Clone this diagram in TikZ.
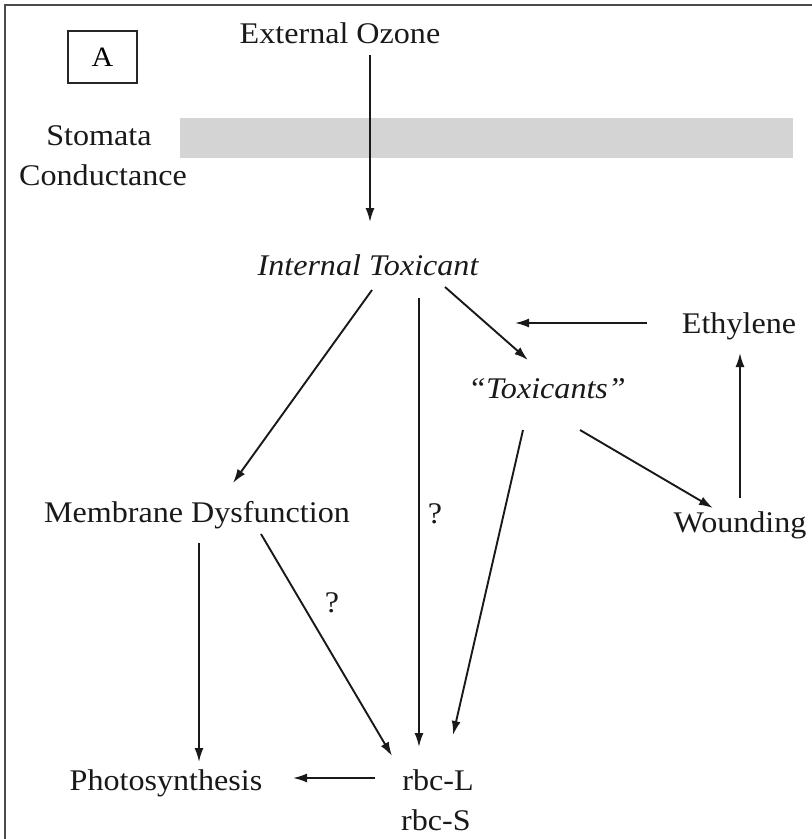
\documentclass[tikz,border=0pt]{standalone}
\usepackage{fontspec}
\setmainfont[FakeStretch=1.07]{Liberation Serif}
\usetikzlibrary{arrows.meta,calc}

\tikzset{
  lbl/.style={anchor=base, inner sep=0pt, font=\fontsize{30}{36}\selectfont, text=black!90},
  ilbl/.style={lbl, font=\fontsize{30}{36}\selectfont\itshape},
  arr/.style={draw=black!90, line width=1.9pt, -{Latex[length=14pt,width=9pt]}},
  frameline/.style={draw=black!70, line width=1.8pt},
  tagbox/.style={draw=black!85, line width=1.7pt, minimum width=69pt, minimum height=52pt,
                 inner sep=0pt, font=\fontsize{28}{34}\selectfont},
  barfill/.style={fill=black!17, draw=none}
}

\begin{document}
\begin{tikzpicture}[x=1pt, y=-1pt]
  % canvas
  \useasboundingbox (0,0) rectangle (812,839);
  \fill[white] (0,0) rectangle (812,839);

  % outer frame (top and left edges)
  \draw[frameline] (5,839) -- (5,5) -- (812,5);

  % panel tag
  \node[tagbox] (tag) at (102.5,57) {A};

  % stomata barrier
  \fill[barfill] (180,118) rectangle (793,158);
  \node[lbl] (stom) at (99,145) {Stomata};
  \node[lbl] (cond) at (103,185) {Conductance};

  % labels
  \node[lbl]  (ozone) at (340,43)  {External Ozone};
  \node[ilbl] (it)    at (368,275) {Internal Toxicant};
  \node[lbl]  (eth)   at (739,333) {Ethylene};
  \node[ilbl] (tox)   at (547,398) {``Toxicants''};
  \node[lbl]  (md)    at (197,522) {Membrane Dysfunction};
  \node[lbl]  (q1)    at (435,523) {?};
  \node[lbl]  (wound) at (740,532) {Wounding};
  \node[lbl]  (q2)    at (332,612) {?};
  \node[lbl]  (photo) at (166,790) {Photosynthesis};
  \node[lbl]  (rbcL)  at (438,790) {rbc-L};
  \node[lbl]  (rbcS)  at (436,830) {rbc-S};

  % free end of the ethylene arrow
  \coordinate (ethend) at ($(tox.base)+(-32,-75)$);

  % connectors
  \draw[arr] ($(ozone.base)+(30,12)$) -- ($(it.base)+(2,-53)$);
  \draw[arr] ($(it.base)+(4,15)$)     -- ($(md.base)+(36,-39)$);
  \draw[arr] ($(it.base)+(51,23)$)    -- ($(rbcL.base)+(-19,-43)$);
  \draw[arr] ($(it.base)+(77,12)$)    -- ($(tox.base)+(-19,-38)$);
  \draw[arr] ($(eth.base)+(-92,-10)$) -- (ethend);
  \draw[arr] ($(wound.base)+(0,-34)$) -- ($(eth.base)+(1,20)$);
  \draw[arr] ($(tox.base)+(33,32)$)   -- ($(wound.base)+(-27,-24)$);
  \draw[arr] ($(tox.base)+(-24,32)$)  -- ($(rbcL.base)+(15,-55)$);
  \draw[arr] ($(md.base)+(2,21)$)     -- ($(photo.base)+(33,-28)$);
  \draw[arr] ($(md.base)+(64,12)$)    -- ($(rbcL.base)+(-46,-34)$);
  \draw[arr] ($(rbcL.base)+(-63,-12)$) -- ($(photo.base)+(127,-12)$);
\end{tikzpicture}
\end{document}
